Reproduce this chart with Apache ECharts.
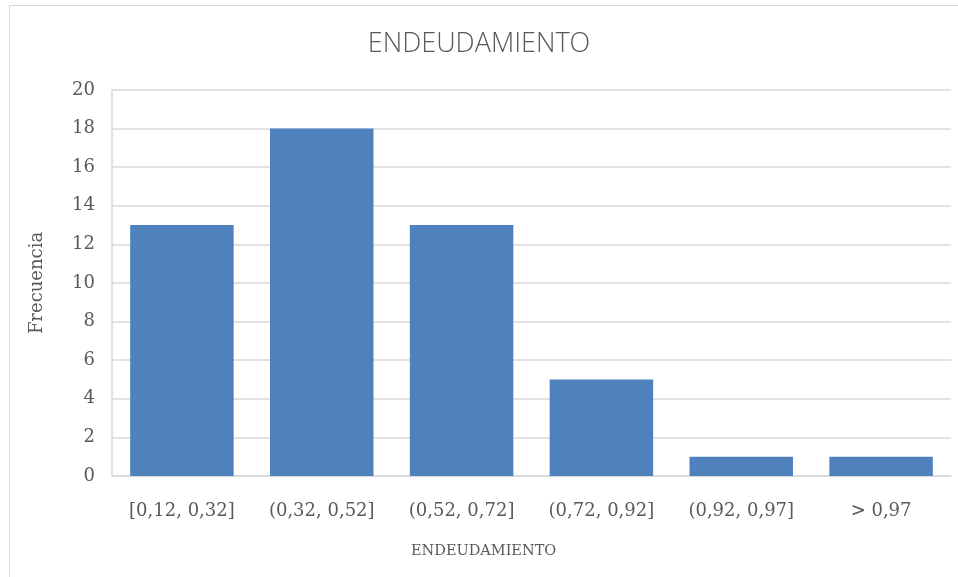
<!DOCTYPE html>
<html>
<head>
<meta charset="utf-8">
<script src="https://cdn.jsdelivr.net/npm/echarts@6/dist/echarts.min.js"></script>
<style>
  html, body { margin: 0; padding: 0; background: #fff; }
  #chart { width: 958px; height: 577px; }
  #frame { position: absolute; left: 9px; top: 5px; width: 1000px; height: 600px;
           border: 1px solid #d9d9d9; box-sizing: border-box; pointer-events: none; }
</style>
</head>
<body>
<div id="chart"></div>
<div id="frame"></div>
<script>
// intervalos de endeudamiento
const categorias = ['[0,12, 0,32]', '(0,32, 0,52]', '(0,52, 0,72]', '(0,72, 0,92]', '(0,92, 0,97]', '> 0,97'];
// frecuencias
const frecuencias = [13, 18, 13, 5, 1, 1];

const serif = '"DejaVu Serif", "Liberation Serif", serif';
const grey = '#595959';

const chart = echarts.init(document.getElementById('chart'));
chart.setOption({
    animation: false,
    title: {
        text: 'ENDEUDAMIENTO',
        left: 'center', top: 26,
        textStyle: { fontFamily: 'Open Sans', fontWeight: 300, fontSize: 27, color: grey }
    },
    // el nombre del eje X va centrado en la figura, no en la rejilla
    graphic: [{
        type: 'text',
        left: 411, top: 544,
        style: { text: 'ENDEUDAMIENTO', font: '14.5px ' + serif, fill: grey }
    }],
    grid: { left: 112, right: 7, top: 90, bottom: 101 },
    xAxis: {
        type: 'category',
        data: categorias,
        axisLine: { lineStyle: { color: '#d9d9d9', width: 1.5 } },
        axisTick: { show: false },
        axisLabel: { interval: 0, hideOverlap: false, fontFamily: serif, fontSize: 18, color: grey, margin: 26 }
    },
    yAxis: {
        type: 'value',
        min: 0, max: 20, interval: 2,
        name: 'Frecuencia',
        nameLocation: 'middle',
        nameGap: 66,
        nameTextStyle: { fontFamily: serif, fontSize: 18, color: grey },
        axisLine: { show: true, lineStyle: { color: '#d9d9d9', width: 1.5 } },
        axisLabel: { fontFamily: serif, fontSize: 18, color: grey, margin: 17 },
        splitLine: { lineStyle: { color: '#d9d9d9', width: 1.5 } }
    },
    series: [{
        type: 'bar',
        data: frecuencias,
        barCategoryGap: '26%',
        itemStyle: { color: '#4f81bd' }
    }]
});
</script>
</body>
</html>
